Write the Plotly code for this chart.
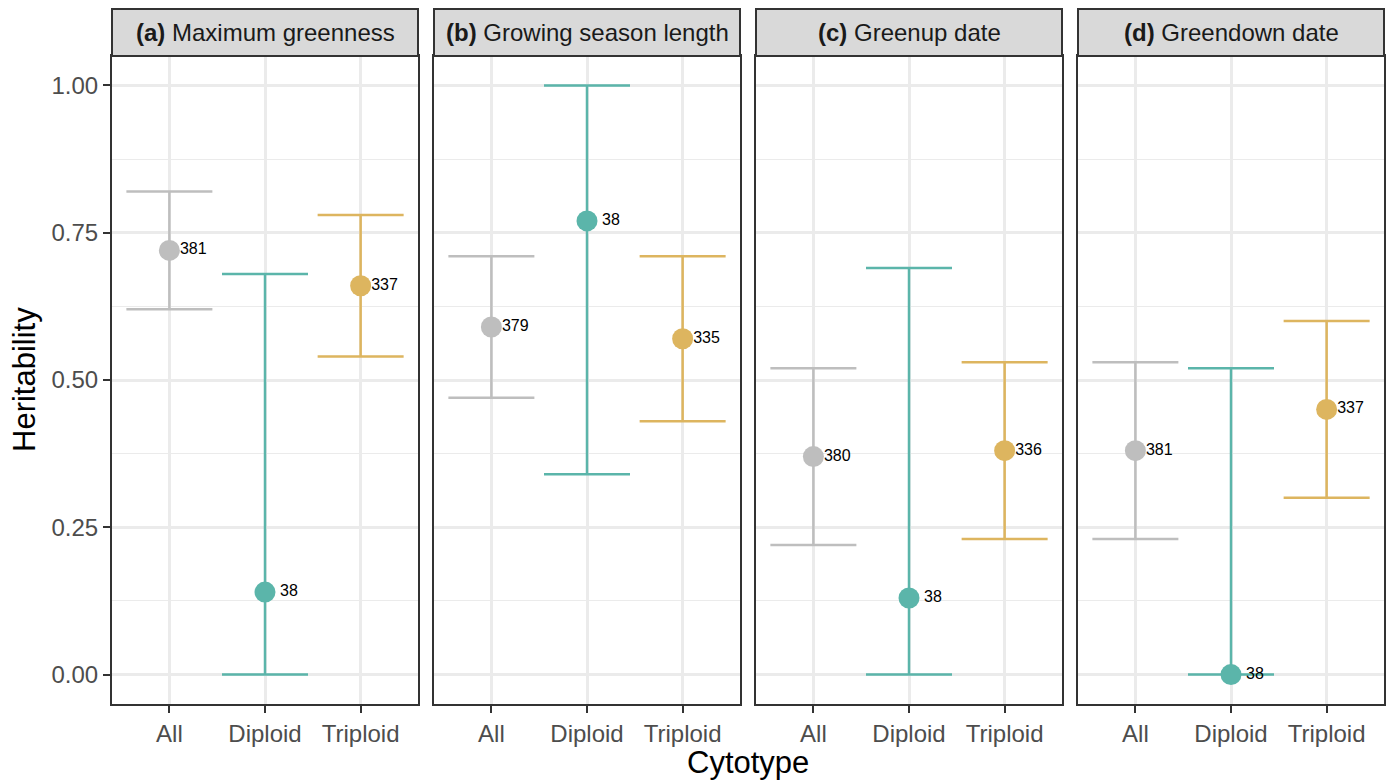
import plotly.graph_objects as go

cytotypes = ["All", "Diploid", "Triploid"]
panel_tags = ["(a)", "(b)", "(c)", "(d)"]
panel_names = ["Maximum greenness", "Growing season length", "Greenup date", "Greendown date"]

est_maxgreen = [0.72, 0.14, 0.66]
lower_maxgreen = [0.62, 0.00, 0.54]
upper_maxgreen = [0.82, 0.68, 0.78]
n_maxgreen = [381, 38, 337]

est_gsl = [0.59, 0.77, 0.57]
lower_gsl = [0.47, 0.34, 0.43]
upper_gsl = [0.71, 1.00, 0.71]
n_gsl = [379, 38, 335]

est_greenup = [0.37, 0.13, 0.38]
lower_greenup = [0.22, 0.00, 0.23]
upper_greenup = [0.52, 0.69, 0.53]
n_greenup = [380, 38, 336]

est_greendown = [0.38, 0.00, 0.45]
lower_greendown = [0.23, 0.00, 0.30]
upper_greendown = [0.53, 0.52, 0.60]
n_greendown = [381, 38, 337]

y_ticks = [0.0, 0.25, 0.5, 0.75, 1.0]

colors = ["#BEBEBE", "#5BB5AA", "#DDB55F"]

W, H = 1391, 781
FONT = "Liberation Sans, Arial, Helvetica, sans-serif"

panels = [
    (est_maxgreen, lower_maxgreen, upper_maxgreen, n_maxgreen),
    (est_gsl, lower_gsl, upper_gsl, n_gsl),
    (est_greenup, lower_greenup, upper_greenup, n_greenup),
    (est_greendown, lower_greendown, upper_greendown, n_greendown),
]

panel_px = [(112, 418), (434, 740), (756, 1062), (1078, 1384)]
plot_top, plot_bot = 56, 704
strip_top = 9

def px(x):
    return x / W

def py(y):
    return 1 - y / H

fig = go.Figure()
layout = {}
shapes = []
annotations = []

for p, (est, lo, hi, ns) in enumerate(panels):
    ax = "" if p == 0 else str(p + 1)
    xref = "x" + ax
    yref = "y" + ax
    xpos = [1, 2, 3]
    for i in range(3):
        fig.add_trace(go.Scatter(
            x=[xpos[i]], y=[est[i]], xaxis=xref, yaxis=yref,
            mode="markers",
            marker=dict(color=colors[i], size=21, line=dict(width=0)),
            error_y=dict(type="data", symmetric=False,
                         array=[hi[i] - est[i]], arrayminus=[est[i] - lo[i]],
                         color=colors[i], thickness=2.5, width=43),
            showlegend=False, hoverinfo="skip",
        ))
    fig.add_trace(go.Scatter(
        x=[x + 0.25 for x in xpos], y=est, xaxis=xref, yaxis=yref,
        mode="text", text=[str(n) for n in ns],
        textposition="middle center",
        textfont=dict(family=FONT, size=16, color="black"),
        showlegend=False, hoverinfo="skip",
    ))
    x0, x1 = panel_px[p]
    layout["xaxis" + ax] = dict(
        domain=[px(x0), px(x1)], anchor=yref, range=[0.4, 3.6],
        tickvals=xpos, ticktext=cytotypes,
        showgrid=True, gridcolor="#EBEBEB", gridwidth=2.5,
        zeroline=False, showline=True, mirror=True,
        linecolor="#333333", linewidth=2,
        ticks="outside", ticklen=7, tickwidth=2, tickcolor="#333333",
        tickfont=dict(family=FONT, size=24, color="#4D4D4D"),
        fixedrange=True,
    )
    layout["yaxis" + ax] = dict(
        domain=[py(plot_bot), py(plot_top)], anchor=xref, range=[-0.05, 1.05],
        tickvals=y_ticks, ticktext=["%.2f" % v for v in y_ticks],
        showticklabels=(p == 0),
        ticks="outside" if p == 0 else "", ticklen=7, tickwidth=2, tickcolor="#333333",
        tickfont=dict(family=FONT, size=24, color="#4D4D4D"),
        showgrid=True, gridcolor="#EBEBEB", gridwidth=2.5,
        minor=dict(tickvals=[0.125, 0.375, 0.625, 0.875], showgrid=True,
                   gridcolor="#EBEBEB", gridwidth=1.2, ticks=""),
        zeroline=False, showline=True, mirror=True,
        linecolor="#333333", linewidth=2,
        fixedrange=True,
    )
    shapes.append(dict(type="rect", xref="paper", yref="paper",
                       x0=px(x0), x1=px(x1), y0=py(plot_top), y1=py(strip_top),
                       fillcolor="#D9D9D9", line=dict(color="#333333", width=2),
                       layer="above"))
    annotations.append(dict(
        xref="paper", yref="paper", x=px((x0 + x1) / 2), y=py((plot_top + strip_top) / 2),
        text="<b>%s</b> %s" % (panel_tags[p], panel_names[p]),
        showarrow=False, xanchor="center", yanchor="middle",
        font=dict(family=FONT, size=24, color="#1A1A1A"),
    ))

annotations.append(dict(xref="paper", yref="paper", x=px((112 + 1384) / 2), y=py(762),
                        text="Cytotype", showarrow=False, xanchor="center", yanchor="middle",
                        font=dict(family=FONT, size=31, color="black")))
annotations.append(dict(xref="paper", yref="paper", x=px(24), y=py(380),
                        text="Heritability", showarrow=False, textangle=-90,
                        xanchor="center", yanchor="middle",
                        font=dict(family=FONT, size=31, color="black")))

fig.update_layout(
    width=W, height=H, margin=dict(l=0, r=0, t=0, b=0),
    paper_bgcolor="white", plot_bgcolor="white",
    shapes=shapes, annotations=annotations,
    **layout,
)

fig.write_html("out.html")
